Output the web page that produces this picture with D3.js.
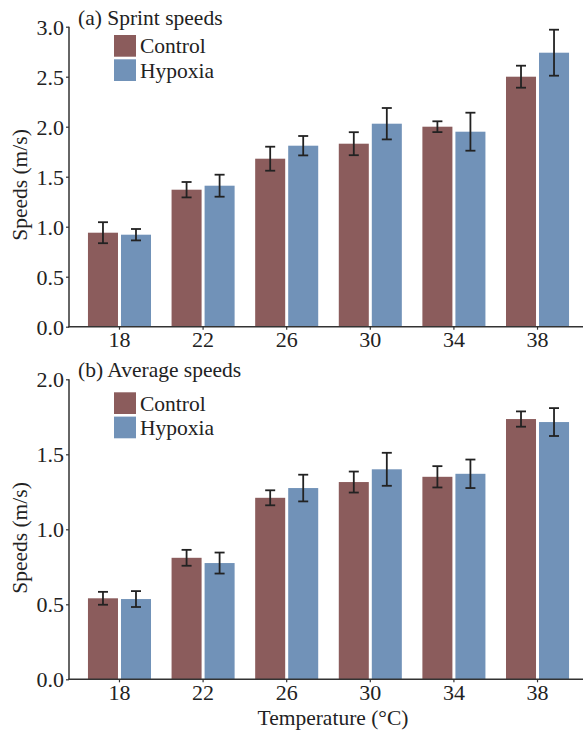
<!DOCTYPE html>
<html>
<head>
<meta charset="utf-8">
<script src="https://cdn.jsdelivr.net/npm/d3@7"></script>
<style>
  body { margin: 0; background: #fff; }
  svg { display: block; }
</style>
</head>
<body>
<svg id="chart" width="583" height="730"></svg>
<script>
const temperatures = ["18", "22", "26", "30", "34", "38"];
const seriesNames = ["Control", "Hypoxia"];
const seriesColors = ["#8b5c5c", "#7192b8"];

const sprintControl = [0.94, 1.37, 1.68, 1.83, 2.00, 2.50];
const sprintControlErr = [0.105, 0.077, 0.12, 0.115, 0.054, 0.11];
const sprintHypoxia = [0.92, 1.41, 1.81, 2.03, 1.95, 2.74];
const sprintHypoxiaErr = [0.057, 0.11, 0.097, 0.157, 0.19, 0.23];

const avgControl = [0.54, 0.81, 1.21, 1.315, 1.35, 1.735];
const avgControlErr = [0.043, 0.053, 0.05, 0.07, 0.071, 0.051];
const avgHypoxia = [0.535, 0.775, 1.275, 1.40, 1.37, 1.715];
const avgHypoxiaErr = [0.053, 0.07, 0.089, 0.11, 0.095, 0.093];

const sprintTicks = [0, 0.5, 1.0, 1.5, 2.0, 2.5, 3.0];
const avgTicks = [0, 0.5, 1.0, 1.5, 2.0];

const FONT = "'Liberation Serif', 'Times New Roman', serif";
const TXT = "#222";
const svg = d3.select("#chart");

function drawPanel(cfg) {
  const g = svg.append("g");
  const x0 = d3.scaleBand().domain(temperatures).range([74, 583]).paddingInner(0.246).paddingOuter(0.167);
  const x1 = d3.scaleBand().domain(seriesNames).range([0, x0.bandwidth()]).paddingInner(0.0909);
  const y = d3.scaleLinear().domain([0, cfg.max]).range([cfg.bottom, cfg.top]);

  const rows = temperatures.map((t, i) => ({
    t,
    vals: [
      { s: "Control", v: cfg.control[i], e: cfg.controlErr[i] },
      { s: "Hypoxia", v: cfg.hypoxia[i], e: cfg.hypoxiaErr[i] }
    ]
  }));

  const grp = g.selectAll(".grp").data(rows).join("g")
    .attr("transform", d => `translate(${x0(d.t)},0)`);

  grp.selectAll("rect").data(d => d.vals).join("rect")
    .attr("x", d => x1(d.s))
    .attr("width", x1.bandwidth())
    .attr("y", d => y(d.v))
    .attr("height", d => y(0) - y(d.v))
    .attr("fill", (d, i) => seriesColors[i]);

  const eb = grp.selectAll(".eb").data(d => d.vals).join("g").attr("class", "eb")
    .attr("stroke", "#222").attr("stroke-width", 1.8);
  const cx = d => x1(d.s) + x1.bandwidth() / 2;
  eb.append("line")
    .attr("x1", cx).attr("x2", cx)
    .attr("y1", d => y(d.v + d.e)).attr("y2", d => y(d.v - d.e));
  eb.append("line")
    .attr("x1", d => cx(d) - 5).attr("x2", d => cx(d) + 5)
    .attr("y1", d => y(d.v + d.e)).attr("y2", d => y(d.v + d.e));
  eb.append("line")
    .attr("x1", d => cx(d) - 5).attr("x2", d => cx(d) + 5)
    .attr("y1", d => y(d.v - d.e)).attr("y2", d => y(d.v - d.e));

  // Y axis
  const yAxis = g.append("g").attr("transform", "translate(69,0)")
    .call(d3.axisLeft(y).tickValues(cfg.ticks).tickFormat(d3.format(".1f")).tickSize(3).tickSizeOuter(0));
  yAxis.attr("font-family", FONT).attr("font-size", 22);
  yAxis.select(".domain").attr("stroke", "#333").attr("stroke-width", 1.5)
    .attr("d", `M0,${cfg.top}V${cfg.bottom + 0.5}`);
  yAxis.selectAll(".tick line").attr("stroke", "#333").attr("stroke-width", 1.2);
  yAxis.selectAll(".tick text").attr("x", -5).attr("dy", "0.34em").attr("fill", TXT);

  // X axis
  const xAxis = g.append("g").attr("transform", `translate(0,${cfg.bottom})`)
    .call(d3.axisBottom(x0).tickSize(3).tickSizeOuter(0));
  xAxis.attr("font-family", FONT).attr("font-size", 22);
  xAxis.select(".domain").attr("stroke", "#333").attr("stroke-width", 1.5).attr("d", "M68.3,0H583");
  xAxis.selectAll(".tick line").attr("stroke", "#333").attr("stroke-width", 1.2);
  xAxis.selectAll(".tick text").attr("y", 20.5).attr("dy", "0").attr("fill", TXT);

  // Y title
  g.append("text")
    .attr("transform", `translate(27,${cfg.ytitleY}) rotate(-90)`)
    .attr("text-anchor", "middle")
    .attr("font-family", FONT).attr("font-size", 21.5).attr("fill", TXT)
    .text("Speeds (m/s)");

  // Panel title
  g.append("text").attr("x", 78).attr("y", cfg.titleY)
    .attr("font-family", FONT).attr("font-size", 21.5).attr("fill", TXT)
    .text(cfg.title);

  // Legend
  seriesNames.forEach((s, i) => {
    g.append("rect").attr("x", 114).attr("y", cfg.legY + i * 24.3).attr("width", 22).attr("height", 21.7)
      .attr("fill", seriesColors[i]);
    g.append("text").attr("x", 140).attr("y", cfg.legY + i * 24.3 + 18.3)
      .attr("font-family", FONT).attr("font-size", 21.5).attr("fill", TXT)
      .text(s);
  });
}

drawPanel({
  control: sprintControl, controlErr: sprintControlErr,
  hypoxia: sprintHypoxia, hypoxiaErr: sprintHypoxiaErr,
  max: 3.0, ticks: sprintTicks, top: 26.7, bottom: 326.7,
  title: "(a) Sprint speeds", titleY: 24.5, legY: 35, ytitleY: 185
});

drawPanel({
  control: avgControl, controlErr: avgControlErr,
  hypoxia: avgHypoxia, hypoxiaErr: avgHypoxiaErr,
  max: 2.0, ticks: avgTicks, top: 379.3, bottom: 679.3,
  title: "(b) Average speeds", titleY: 377, legY: 392.3, ytitleY: 538
});

svg.append("text").attr("x", 333).attr("y", 725).attr("text-anchor", "middle")
  .attr("font-family", FONT).attr("font-size", 21.5).attr("fill", TXT)
  .text("Temperature (°C)");
</script>
</body>
</html>
